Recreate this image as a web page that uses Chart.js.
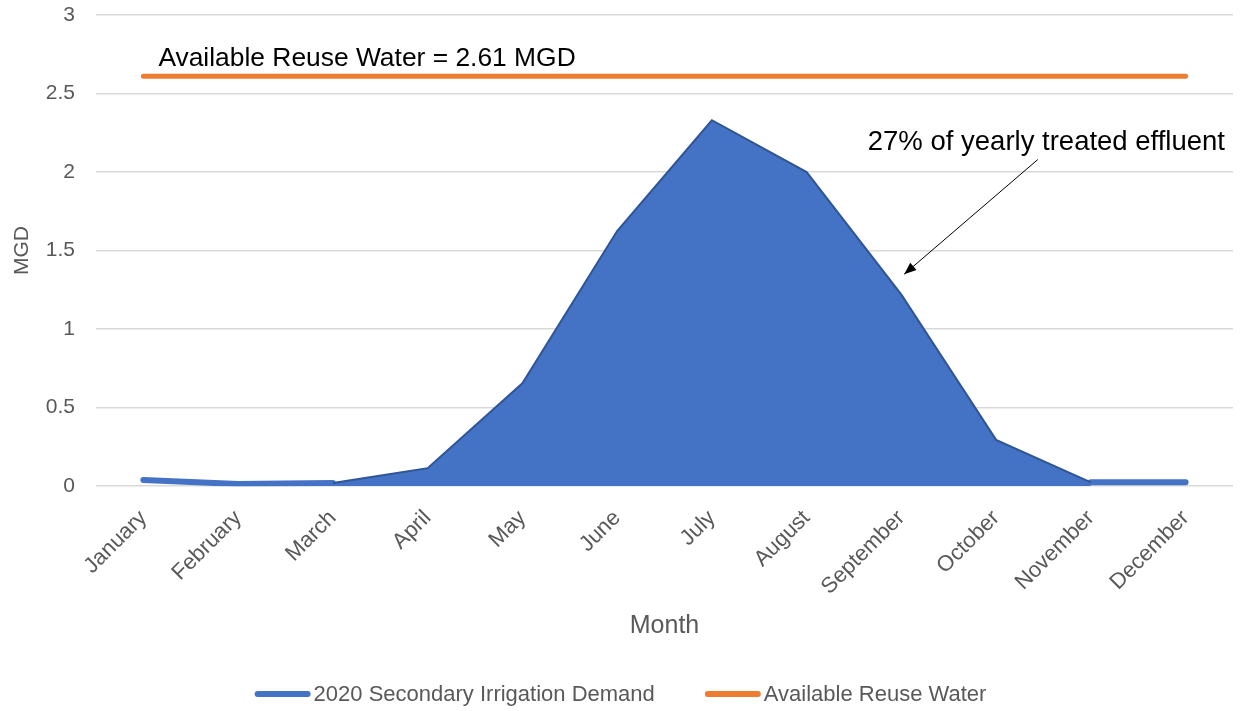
<!DOCTYPE html>
<html>
<head>
<meta charset="utf-8">
<script src="https://cdn.jsdelivr.net/npm/chart.js@4/dist/chart.umd.min.js"></script>
<style>
html,body{margin:0;padding:0;background:#fff;}
#wrap{width:1241px;height:711px;position:relative;}
</style>
</head>
<body>
<div id="wrap"><canvas id="c"></canvas></div>
<script>
const months = ["January","February","March","April","May","June","July","August","September","October","November","December"];
const demand = [0.04, 0.015, 0.02, 0.115, 0.655, 1.625, 2.33, 2.0, 1.22, 0.295, 0.025, 0.025];
const reuse = [2.61, 2.61, 2.61, 2.61, 2.61, 2.61, 2.61, 2.61, 2.61, 2.61, 2.61, 2.61];
const areaMonths = ["March","April","May","June","July","August","September","October","November"];
const edgeMonths = ["January","February","March","November","December"];
const yTicks = [0, 0.5, 1, 1.5, 2, 2.5, 3];
const reuseLabel = "Available Reuse Water = 2.61 MGD";
const effluentLabel = "27% of yearly treated effluent";

const areaData = months.map((m,i)=> areaMonths.includes(m) ? demand[i] : null);
const edgeData = months.map((m,i)=> edgeMonths.includes(m) ? demand[i] : null);

const FONT = "'Liberation Sans', Arial, sans-serif";
const GREY = "#595959";

const annot = {
  id: 'annot',
  afterDatasetsDraw(chart){
    const ctx = chart.ctx, x = chart.scales.x, y = chart.scales.y;
    ctx.save();
    ctx.fillStyle = "#000";
    ctx.font = "26.4px " + FONT;
    ctx.textBaseline = "alphabetic";
    ctx.textAlign = "left";
    ctx.fillText(reuseLabel, x.getPixelForValue(0) + 15, y.getPixelForValue(2.61) - 10);
    ctx.font = "27.5px " + FONT;
    ctx.textAlign = "right";
    ctx.fillText(effluentLabel, x.right - 8, y.getPixelForValue(2.14));
    // arrow
    const x0 = x.getPixelForValue(9.44), y0 = y.getPixelForValue(2.08);
    const x1 = x.getPixelForValue(8.03), y1 = y.getPixelForValue(1.35);
    ctx.strokeStyle = "#000"; ctx.lineWidth = 1;
    ctx.beginPath(); ctx.moveTo(x0,y0); ctx.lineTo(x1,y1); ctx.stroke();
    const ang = Math.atan2(y1-y0, x1-x0), L = 13, W = 0.38;
    ctx.beginPath();
    ctx.moveTo(x1,y1);
    ctx.lineTo(x1 - L*Math.cos(ang-W), y1 - L*Math.sin(ang-W));
    ctx.lineTo(x1 - L*Math.cos(ang+W), y1 - L*Math.sin(ang+W));
    ctx.closePath(); ctx.fillStyle="#000"; ctx.fill();
    ctx.restore();
  }
};

// custom bottom legend
const bottomLegend = {
  id: 'bottomLegend',
  afterDraw(chart){
    const ctx = chart.ctx;
    const items = chart.data.datasets.filter(d => d.label !== "area");
    const SW = 56, SH = 6, GAP = 3, ITEMGAP = 50;
    ctx.save();
    ctx.font = "22px " + FONT;
    const widths = items.map(d => SW + GAP + ctx.measureText(d.label).width);
    const total = widths.reduce((a,b)=>a+b,0) + ITEMGAP*(items.length-1);
    let x = (chart.width - total)/2;
    const yc = chart.height - 17;
    ctx.textBaseline = "middle";
    ctx.textAlign = "left";
    items.forEach((d,i) => {
      ctx.fillStyle = d.borderColor;
      ctx.beginPath();
      ctx.roundRect(x, yc - SH/2, SW, SH, SH/2);
      ctx.fill();
      ctx.fillStyle = GREY;
      ctx.fillText(d.label, x + SW + GAP, yc + 1);
      x += widths[i] + ITEMGAP;
    });
    ctx.restore();
  }
};

new Chart(document.getElementById('c'), {
  type: 'line',
  data: {
    labels: months,
    datasets: [
      {
        label: "area",
        data: areaData,
        fill: 'origin',
        backgroundColor: "#4472C4",
        borderColor: "#2F5597",
        borderWidth: 2,
        pointRadius: 0,
        tension: 0
      },
      {
        label: "2020 Secondary Irrigation Demand",
        data: edgeData,
        fill: false,
        borderColor: "#4472C4",
        backgroundColor: "#4472C4",
        borderWidth: 6,
        borderCapStyle: 'round',
        borderJoinStyle: 'round',
        pointRadius: 0,
        spanGaps: false,
        tension: 0
      },
      {
        label: "Available Reuse Water",
        data: reuse,
        fill: false,
        borderColor: "#ED7D31",
        backgroundColor: "#ED7D31",
        borderWidth: 5,
        borderCapStyle: 'round',
        pointRadius: 0,
        tension: 0
      }
    ]
  },
  options: {
    responsive: true,
    maintainAspectRatio: false,
    animation: false,
    layout: { padding: { top: 0, right: 8, bottom: 60, left: 10 } },
    plugins: {
      tooltip: { enabled: false },
      legend: { display: false }
    },
    scales: {
      x: {
        offset: true,
        grid: { display: false },
        border: { display: false },
        ticks: {
          color: GREY,
          font: { size: 22, family: FONT },
          minRotation: 45,
          maxRotation: 45,
          padding: 11
        },
        title: {
          display: true,
          text: "Month",
          color: GREY,
          font: { size: 25, family: FONT },
          padding: { top: 0, bottom: 10 }
        }
      },
      y: {
        min: 0,
        max: 3,
        afterBuildTicks: (s) => { s.ticks = yTicks.map(v => ({ value: v })); },
        afterFit: (s) => { s.width = 86; s.paddingTop = 15; },
        grid: { color: "#D9D9D9", lineWidth: 1.5, drawTicks: false },
        border: { display: false },
        ticks: {
          color: GREY,
          font: { size: 21, family: FONT },
          padding: 21,
          callback: (v) => String(v)
        },
        title: {
          display: true,
          text: "MGD",
          color: GREY,
          font: { size: 21, family: FONT },
          padding: { top: 0, bottom: 0 }
        }
      }
    }
  },
  plugins: [annot, bottomLegend]
});
</script>
</body>
</html>
